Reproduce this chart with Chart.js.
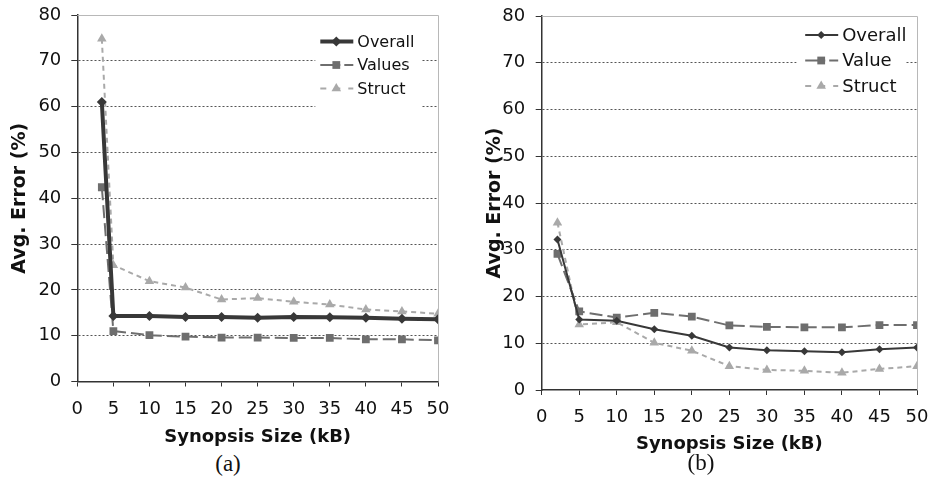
<!DOCTYPE html>
<html>
<head>
<meta charset="utf-8">
<script src="https://cdn.jsdelivr.net/npm/chart.js@4.4.1/dist/chart.umd.min.js"></script>
<style>
    body { margin: 0; background: #fff; width: 930px; height: 481px; position: relative; overflow: hidden; }
    canvas { position: absolute; top: 0; }
    .cap { position: absolute; font-family: "Liberation Serif", serif; font-size: 23px; color: #111; transform: translate(-50%, -50%); line-height: 1; }
</style>
</head>
<body>
<canvas id="chartA" width="470" height="450" style="left:0"></canvas>
<canvas id="chartB" width="460" height="456" style="left:470px"></canvas>
<div class="cap" style="left:228px;top:463px">(a)</div>
<div class="cap" style="left:701px;top:462px">(b)</div>
<script>
    // synopsis sizes (kB)
    var sizesA = [3.4, 5, 10, 15, 20, 25, 30, 35, 40, 45, 50];
    var sizesB = [2.1, 5, 10, 15, 20, 25, 30, 35, 40, 45, 50];

    // avg. error (%)
    var overallA = [61.0, 14.3, 14.3, 14.1, 14.1, 13.9, 14.1, 14.0, 13.9, 13.7, 13.6];
    var valuesA = [42.4, 11.0, 10.1, 9.8, 9.6, 9.6, 9.5, 9.5, 9.2, 9.2, 9.0];
    var structA = [74.8, 25.4, 21.9, 20.5, 17.9, 18.2, 17.4, 16.8, 15.7, 15.3, 14.8];

    var overallB = [32.2, 15.1, 14.8, 13.0, 11.6, 9.1, 8.5, 8.3, 8.1, 8.7, 9.1];
    var valueB = [29.1, 16.8, 15.5, 16.5, 15.7, 13.8, 13.5, 13.4, 13.4, 13.9, 13.9];
    var structB = [35.8, 14.0, 14.5, 10.1, 8.4, 5.1, 4.3, 4.1, 3.7, 4.5, 5.1];

    var seriesNamesA = ['Overall', 'Values', 'Struct'];
    var seriesNamesB = ['Overall', 'Value', 'Struct'];

    var xTitle = 'Synopsis Size (kB)';
    var yTitle = 'Avg. Error (%)';

    var fontFamily = '"DejaVu Sans", Verdana, sans-serif';

    var toPoints = function (xs, ys) {
        return xs.map(function (x, i) { return { x: x, y: ys[i] }; });
    };

    // top and right frame lines of the plot area
    var frameLines = {
        id: 'frameLines',
        beforeDatasetsDraw: function (chart) {
            var ctx = chart.ctx, a = chart.chartArea;
            ctx.save();
            ctx.strokeStyle = '#b8b8b8';
            ctx.lineWidth = 1;
            ctx.beginPath();
            ctx.moveTo(a.left, a.top + 0.5);
            ctx.lineTo(a.right + 0.5, a.top + 0.5);
            ctx.lineTo(a.right + 0.5, a.bottom);
            ctx.stroke();
            ctx.restore();
        }
    };

    var drawMarker = function (ctx, style, x, y, r) {
        ctx.beginPath();
        if (style === 'rectRot') {
            ctx.moveTo(x, y - r); ctx.lineTo(x + r, y); ctx.lineTo(x, y + r); ctx.lineTo(x - r, y);
        } else if (style === 'rect') {
            var s = r * Math.SQRT1_2;
            ctx.rect(x - s, y - s, 2 * s, 2 * s);
        } else {
            ctx.moveTo(x, y - r); ctx.lineTo(x + r * 0.87, y + r * 0.5); ctx.lineTo(x - r * 0.87, y + r * 0.5);
        }
        ctx.closePath();
        ctx.fill();
    };

    // legend in the top right corner of the plot
    var innerLegend = {
        id: 'innerLegend',
        beforeDatasetsDraw: function (chart, args, opts) {
            var ctx = chart.ctx, a = chart.chartArea;
            ctx.save();
            ctx.fillStyle = '#fff';
            ctx.fillRect(a.left + opts.boxX, a.top + 8, opts.boxW, 84);
            chart.data.datasets.forEach(function (ds, i) {
                var y = a.top + opts.rowY + i * opts.rowGap;
                var x0 = a.left + opts.sampleX, x1 = x0 + 33;
                ctx.strokeStyle = ds.borderColor;
                ctx.lineWidth = ds.borderWidth;
                ctx.setLineDash(ds.legendDash);
                ctx.beginPath();
                ctx.moveTo(x0, y);
                ctx.lineTo(x1, y);
                ctx.stroke();
                ctx.setLineDash([]);
                ctx.fillStyle = ds.pointBackgroundColor;
                drawMarker(ctx, ds.pointStyle, x0 + 16, y, ds.pointRadius);
                ctx.fillStyle = '#111';
                ctx.font = opts.fontSize + 'px ' + fontFamily;
                ctx.textBaseline = 'middle';
                ctx.fillText(ds.label, x1 + 4, y + 1);
            });
            ctx.restore();
        }
    };

    var makeChart = function (id, xs, series, names, cfg) {
        var colors = ['#383838', '#6e6e6e', '#a9a9a9'];
        var styles = ['rectRot', 'rect', 'triangle'];
        var dashes = [[], [13, 5], [5, 4]];
        var legendDashes = [[], [20, 4, 9], [6, 8]];
        var datasets = series.map(function (ys, i) {
            return {
                label: names[i],
                data: toPoints(xs, ys),
                borderColor: colors[i],
                backgroundColor: colors[i],
                pointBackgroundColor: colors[i],
                pointBorderColor: colors[i],
                borderWidth: cfg.widths[i],
                borderDash: dashes[i],
                legendDash: legendDashes[i],
                pointStyle: styles[i],
                pointRadius: cfg.radii[i],
                pointBorderWidth: 0,
                tension: 0
            };
        });

        return new Chart(document.getElementById(id), {
            type: 'line',
            data: { datasets: datasets },
            plugins: [frameLines, innerLegend],
            options: {
                responsive: false,
                animation: false,
                layout: { padding: cfg.padding },
                plugins: {
                    legend: { display: false },
                    tooltip: { enabled: false },
                    innerLegend: cfg.legend
                },
                scales: {
                    x: {
                        type: 'linear',
                        min: 0,
                        max: 50,
                        ticks: { stepSize: 5, padding: 12, color: '#111', font: { family: fontFamily, size: 18 } },
                        grid: { drawOnChartArea: false, drawTicks: true, tickLength: 5, tickColor: '#333', tickWidth: 1 },
                        border: { color: '#333', width: 1.5 },
                        title: { display: true, text: xTitle, color: '#111', padding: { top: 0, bottom: cfg.xTitlePad }, font: { family: fontFamily, size: 18, weight: 'bold' } },
                        afterFit: function (scale) {
                            scale.height = cfg.xHeight;
                            scale.paddingLeft = 0;
                            scale.paddingRight = 0;
                        }
                    },
                    y: {
                        min: 0,
                        max: 80,
                        ticks: { stepSize: 10, padding: cfg.yTickPad, color: '#111', font: { family: fontFamily, size: 18 } },
                        grid: {
                            color: function (c) {
                                return (c.tick && (c.tick.value === 0 || c.tick.value === 80)) ? 'rgba(0,0,0,0)' : '#555';
                            },
                            lineWidth: 1,
                            drawTicks: true,
                            tickLength: 6,
                            tickColor: '#333',
                            tickWidth: 1,
                            tickBorderDash: []
                        },
                        border: { color: '#333', width: 1.5, dash: [2, 2] },
                        title: { display: true, text: yTitle, color: '#111', padding: { top: cfg.yTitlePad, bottom: 0 }, font: { family: fontFamily, size: 19, weight: 'bold' } },
                        afterFit: function (scale) {
                            scale.width = cfg.yWidth;
                            scale.paddingTop = 0;
                            scale.paddingBottom = 0;
                        }
                    }
                }
            }
        });
    };

    makeChart('chartA', sizesA, [overallA, valuesA, structA], seriesNamesA, {
        widths: [4, 2, 2],
        radii: [5, 5.5, 5.5],
        padding: { left: 0, top: 15, right: 32, bottom: 0 },
        xHeight: 68.5,
        yWidth: 77.3,
        xTitlePad: 2,
        yTitlePad: 9,
        yTickPad: 10,
        legend: { boxX: 238, boxW: 106, sampleX: 243, rowY: 26.5, rowGap: 23.5, fontSize: 16 }
    });

    makeChart('chartB', sizesB, [overallB, valueB, structB], seriesNamesB, {
        widths: [2, 2, 2],
        radii: [4, 5.5, 5.5],
        padding: { left: 0, top: 16, right: 13, bottom: 0 },
        xHeight: 66,
        yWidth: 71.7,
        xTitlePad: 1,
        yTitlePad: 13.5,
        yTickPad: 10.5,
        legend: { boxX: 255, boxW: 109, sampleX: 263.5, rowY: 19, rowGap: 25.5, fontSize: 18 }
    });
</script>
</body>
</html>
